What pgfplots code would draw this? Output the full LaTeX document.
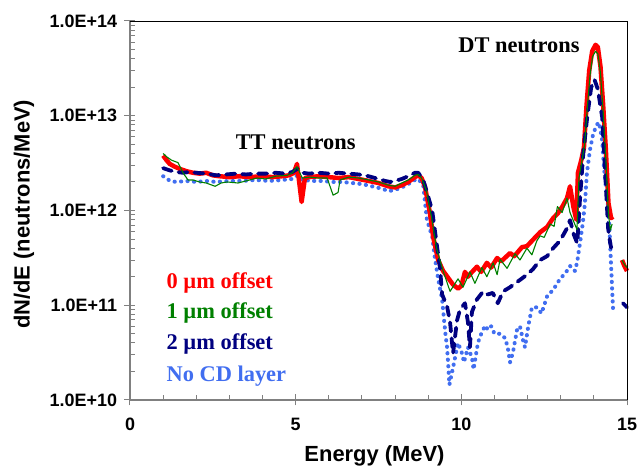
\documentclass[border=0pt]{standalone}
\usepackage{fontspec}
\setmainfont{Liberation Serif}
\newfontfamily\arialfont{Liberation Sans}
\usepackage{pgfplots}
\pgfplotsset{compat=1.18}
\definecolor{cred}{RGB}{255,0,0}
\definecolor{cgreen}{RGB}{0,128,0}
\definecolor{cnavy}{RGB}{0,0,128}
\definecolor{clblue}{RGB}{65,110,240}
\definecolor{axgray}{RGB}{128,128,128}

\begin{document}
\begin{tikzpicture}
\begin{axis}[
  width=497bp, height=379bp, scale only axis,
  xmin=0, xmax=15, ymin=1e10, ymax=1e14, ymode=log,
  clip=false,
  axis x line*=bottom, axis y line*=left,
  axis line style={axgray, line width=1.3bp},
  xtick={0,5,10,15}, xticklabels={0,5,10,15},
  minor x tick num=4,
  ytick={1e10,1e11,1e12,1e13,1e14},
  yticklabels={1.0E+10,1.0E+11,1.0E+12,1.0E+13,1.0E+14},
  tick style={axgray, line width=1bp},
  tick align=center,
  major tick length=11bp, minor tick length=5bp,
  every minor x tick/.append style={yshift=2.5bp},
  every minor y tick/.append style={xshift=2.5bp},
  ticklabel style={font=\fontsize{18}{18}\selectfont\arialfont\bfseries},
  xticklabel style={yshift=-9bp},
  yticklabel style={xshift=-4bp},
  label style={font=\fontsize{22}{22}\selectfont\arialfont\bfseries},
  xlabel={Energy (MeV)},
  ylabel={dN/dE (neutrons/MeV)},
  xlabel style={at={(axis description cs:0.492,-0.1628)}, anchor=base},
  ylabel style={at={(axis description cs:-0.2133,0.49)}, anchor=center},
  unbounded coords=jump,
  every axis plot/.append style={mark=none, line join=round},
]

% no CD layer (dotted)
\addplot[clblue, line width=4bp, dash pattern=on 0.3bp off 6.2bp, line cap=round] coordinates {
(1.0,2.3e12) (1.1,2.2e12) (1.2,2.05e12) (1.4,2.0e12) (1.7,2.05e12) (2.0,2.0e12)
(2.3,2.05e12) (2.6,2.0e12) (3.0,2.05e12) (3.4,2.05e12) (3.8,2.1e12) (4.2,2.05e12)
(4.6,2.1e12) (4.9,2.15e12) (5.05,2.35e12) (5.2,2.1e12) (5.5,2.05e12) (5.8,2.05e12)
(6.1,2.0e12) (6.4,2.0e12) (6.7,1.95e12) (7.0,1.9e12) (7.3,1.8e12) (7.6,1.7e12)
(7.8,1.6e12) (8.0,1.65e12) (8.2,1.75e12) (8.4,1.9e12) (8.6,2.1e12) (8.7,2.15e12)
(8.85,1.85e12) (8.96,8e11) (9.12,5.3e11) (9.2,3.2e11) (9.3,1.9e11) (9.42,1.15e11)
(9.47,7.5e10) (9.52,5.0e10) (9.57,3.6e10) (9.6,2.5e10) (9.64,1.45e10) (9.75,2.2e10)
(9.9,4.0e10) (10.02,3.1e10) (10.08,2.5e10) (10.2,3.6e10) (10.32,2.8e10) (10.37,2.1e10)
(10.5,4.0e10) (10.62,5.2e10) (10.72,6.1e10) (10.8,5.5e10) (10.9,6.0e10) (11.0,5.0e10)
(11.17,5.0e10) (11.32,4.5e10) (11.4,3.6e10) (11.47,2.5e10) (11.56,3.2e10) (11.68,5.5e10)
(11.77,6.0e10) (11.86,4.3e10) (11.92,3.6e10) (12.02,6.0e10) (12.13,9.5e10) (12.28,9.5e10)
(12.42,8.2e10) (12.59,1.25e11) (12.77,1.45e11) (12.98,1.9e11) (13.15,2.2e11) (13.28,2.6e11)
(13.43,2.3e11) (13.5,2.9e11) (13.58,4.5e11) (13.67,7.5e11) (13.73,1.2e12) (13.79,2.5e12)
(13.88,4.3e12) (13.97,6.2e12) (14.08,8.0e12) (14.16,8.5e12) (14.25,5.5e12) (14.3,3.0e12)
(14.36,1.8e12) (14.42,1.2e12) (14.47,6.5e11) (14.5,3.8e11) (14.55,1.5e11) (14.58,9e10)
};

% 0 um offset
\addplot[cred, line width=4.5bp] coordinates {
(1.0,3.8e12) (1.1,3.4e12) (1.2,3.1e12) (1.35,2.9e12) (1.5,2.75e12) (1.7,2.6e12)
(1.9,2.5e12) (2.1,2.45e12) (2.3,2.5e12) (2.5,2.35e12) (2.7,2.3e12) (3.0,2.25e12)
(3.3,2.3e12) (3.6,2.25e12) (4.0,2.3e12) (4.3,2.25e12) (4.6,2.3e12) (4.8,2.35e12)
(4.95,2.5e12) (5.04,3.1e12) (5.18,1.23e12) (5.28,2.2e12) (5.4,2.25e12) (5.7,2.3e12)
(6.0,2.25e12) (6.3,2.2e12) (6.6,2.25e12) (6.9,2.15e12) (7.2,2.05e12) (7.5,1.95e12)
(7.8,1.8e12) (8.0,1.75e12) (8.2,1.85e12) (8.4,2.0e12) (8.6,2.25e12) (8.7,2.35e12)
(8.8,2.2e12) (8.9,1.8e12) (9.05,9.5e11) (9.15,5.3e11) (9.3,3.0e11) (9.45,2.3e11)
(9.6,1.95e11) (9.75,1.65e11) (9.9,1.5e11) (10.0,1.6e11) (10.11,2.25e11) (10.2,2.0e11)
(10.3,2.2e11) (10.47,2.55e11) (10.6,2.25e11) (10.77,2.8e11) (10.9,2.5e11) (11.08,3.15e11)
(11.2,2.9e11) (11.47,3.55e11) (11.6,3.3e11) (11.83,4.1e11) (11.98,4.2e11) (12.16,4.9e11)
(12.38,5.9e11) (12.59,6.7e11) (12.77,8.3e11) (12.92,9.4e11) (13.05,1.1e12) (13.19,1.35e12)
(13.28,1.8e12) (13.38,1.1e12) (13.47,8.0e11) (13.52,2.5e12) (13.62,3.4e12) (13.7,4.6e12)
(13.78,1.3e13) (13.86,3.0e13) (13.95,4.8e13) (14.05,5.6e13) (14.12,5.3e13) (14.2,3.3e13)
(14.28,1.3e13) (14.36,4.5e12) (14.44,1.2e12) (14.52,8.3e11) (14.58,8.6e11)
(14.7,nan) (14.85,3.0e11) (14.92,2.6e11) (15.0,2.3e11)
};

% 2 um offset (dashed)
\addplot[cnavy, line width=3.8bp, dash pattern=on 9bp off 7bp, line cap=round] coordinates {
(1.0,2.8e12) (1.2,2.65e12) (1.4,2.55e12) (1.6,2.5e12) (1.8,2.55e12) (2.0,2.5e12)
(2.3,2.45e12) (2.6,2.35e12) (2.9,2.4e12) (3.2,2.45e12) (3.5,2.4e12) (3.8,2.45e12)
(4.1,2.45e12) (4.4,2.5e12) (4.7,2.45e12) (4.9,2.55e12) (5.05,2.75e12) (5.2,2.5e12)
(5.4,2.45e12) (5.7,2.5e12) (6.0,2.45e12) (6.3,2.5e12) (6.6,2.45e12) (6.9,2.4e12)
(7.2,2.3e12) (7.5,2.15e12) (7.7,2.05e12) (7.85,2.0e12) (8.0,2.05e12) (8.2,2.15e12)
(8.4,2.3e12) (8.6,2.5e12) (8.7,2.5e12) (8.85,2.1e12) (9.0,1.4e12) (9.12,1.0e12)
(9.27,4.1e11) (9.36,2.4e11) (9.42,1.3e11) (9.57,9.7e10) (9.66,6.6e10) (9.75,3.1e10)
(9.87,6.9e10) (9.96,9.0e10) (10.11,1.05e11) (10.2,6.6e10) (10.26,3.6e10) (10.32,8.5e10)
(10.47,1.15e11) (10.66,1.4e11) (10.8,1.3e11) (10.95,1.35e11) (11.1,1.05e11) (11.26,1.4e11)
(11.47,1.55e11) (11.62,1.7e11) (11.77,1.85e11) (11.98,2.1e11) (12.16,2.4e11) (12.38,3.0e11)
(12.59,3.3e11) (12.77,4.0e11) (12.98,4.8e11) (13.19,6.5e11) (13.28,7.9e11) (13.4,5.5e11)
(13.5,4.5e11) (13.58,1.3e12) (13.68,4.0e12) (13.8,9.7e12) (13.92,2.0e13) (14.02,2.4e13)
(14.12,1.9e13) (14.25,9.7e12) (14.34,2.5e12) (14.43,6.5e11) (14.49,4.6e11) (14.55,3.6e11)
(14.7,nan) (14.88,1.05e11) (15.0,9.5e10)
};

% 1 um offset (thin)
\addplot[cgreen, line width=1.1bp] coordinates {
(1.0,4.0e12) (1.1,3.7e12) (1.25,3.4e12) (1.45,3.2e12) (1.6,2.5e12) (1.75,2.1e12)
(1.9,2.1e12) (2.1,2.0e12) (2.3,1.95e12) (2.57,1.8e12) (2.75,1.95e12) (2.93,2.0e12)
(3.26,1.95e12) (3.5,2.05e12) (3.83,2.2e12) (4.1,2.15e12) (4.4,2.3e12) (4.74,2.35e12)
(4.9,2.5e12) (5.04,2.9e12) (5.2,2.2e12) (5.43,2.25e12) (5.7,2.2e12) (5.95,2.2e12)
(6.13,1.45e12) (6.28,1.55e12) (6.34,2.1e12) (6.6,2.25e12) (6.9,2.2e12) (7.2,2.1e12)
(7.5,2.0e12) (7.8,1.85e12) (8.0,1.8e12) (8.2,1.95e12) (8.4,2.1e12) (8.6,2.35e12)
(8.7,2.4e12) (8.8,2.2e12) (8.95,1.6e12) (9.1,8.5e11) (9.25,4.0e11) (9.45,2.3e11)
(9.66,1.4e11) (9.9,1.9e11) (10.05,1.55e11) (10.26,2.25e11) (10.41,1.7e11) (10.62,2.5e11)
(10.77,2.0e11) (10.96,2.8e11) (11.08,2.1e11) (11.17,3.05e11) (11.38,2.45e11) (11.62,3.5e11)
(11.77,3.0e11) (11.98,4.0e11) (12.13,3.4e11) (12.28,4.8e11) (12.38,5.4e11) (12.5,5.2e11)
(12.68,7.2e11) (12.8,6.8e11) (12.9,1.1e12) (13.04,9.5e11) (13.19,1.35e12) (13.28,9.5e11)
(13.49,6.3e11) (13.55,2.2e12) (13.65,3.5e12) (13.72,5.0e12) (13.8,1.2e13) (13.88,2.6e13)
(13.96,4.2e13) (14.05,4.8e13) (14.12,4.5e13) (14.2,2.8e13) (14.28,1.1e13) (14.36,3.5e12)
(14.44,9e11) (14.5,6.2e11) (14.55,7.2e11)
(14.7,nan) (14.85,3.0e11) (14.92,2.7e11) (15.0,2.5e11)
};

\node[anchor=base, inner sep=0pt, font=\fontsize{22.5}{22.5}\selectfont\bfseries] at (axis cs:5.0,4.4e12) {TT neutrons};
\node[anchor=base, inner sep=0pt, font=\fontsize{22.5}{22.5}\selectfont\bfseries] at (axis cs:11.74,4.6e13) {DT neutrons};
\node[anchor=base west, inner sep=0pt, text=cred, font=\fontsize{22.5}{22.5}\selectfont\bfseries] at (axis cs:1.1,1.52e11) {0 µm offset};
\node[anchor=base west, inner sep=0pt, text=cgreen, font=\fontsize{22.5}{22.5}\selectfont\bfseries] at (axis cs:1.1,7.3e10) {1 µm offset};
\node[anchor=base west, inner sep=0pt, text=cnavy, font=\fontsize{22.5}{22.5}\selectfont\bfseries] at (axis cs:1.1,3.37e10) {2 µm offset};
\node[anchor=base west, inner sep=0pt, text=clblue, font=\fontsize{22.5}{22.5}\selectfont\bfseries] at (axis cs:1.1,1.55e10) {No CD layer};
\end{axis}
\draw[black, line width=0.8bp] (current axis.north west) -- (current axis.north east) -- (current axis.south east);
\pgfresetboundingbox
\path ([shift={(-130bp,-66bp)}]current axis.south west) rectangle ([shift={(10bp,21bp)}]current axis.north east);
\end{tikzpicture}
\end{document}
